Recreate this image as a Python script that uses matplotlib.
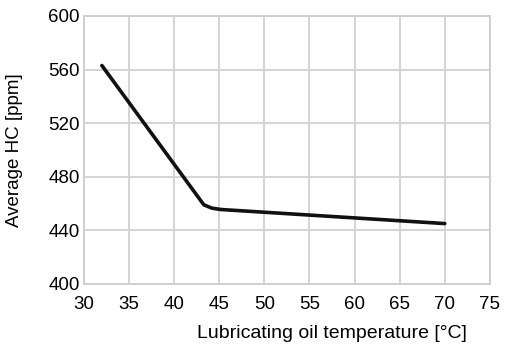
import matplotlib.pyplot as plt

plt.rcParams["font.family"] = ["Liberation Sans", "DejaVu Sans"]

# Average HC emission vs lubricating oil temperature
oil_temp = [32, 43.3, 44.2, 45.2, 70]
avg_hc = [563, 459, 456.5, 455.5, 445]

x_ticks = [30, 35, 40, 45, 50, 55, 60, 65, 70, 75]
y_ticks = [400, 440, 480, 520, 560, 600]

fig = plt.figure(figsize=(5.05, 3.47), dpi=100)
ax = fig.add_axes([0.166, 0.182, 0.804, 0.772])

ax.plot(oil_temp, avg_hc, color="#111111", linewidth=2.6,
        solid_joinstyle="round", solid_capstyle="round")

ax.set_xlim(30, 75)
ax.set_ylim(400, 600)
ax.set_xticks(x_ticks)
ax.set_yticks(y_ticks)
ax.grid(True, color="#d4d4d4", linewidth=1.4)
ax.set_axisbelow(True)
for s in ax.spines.values():
    s.set_color("#cfcfcf")
    s.set_linewidth(1.4)
ax.tick_params(length=0, labelsize=13.5)
ax.tick_params(axis="x", pad=9)
ax.tick_params(axis="y", pad=3)

ax.set_xlabel("Lubricating oil temperature [°C]", fontsize=14)
ax.xaxis.set_label_coords(0.61, -0.155)
ax.set_ylabel("Average HC [ppm]", fontsize=13.5)
ax.yaxis.set_label_coords(-0.15, 0.5)

fig.savefig("out.png", dpi=100)
